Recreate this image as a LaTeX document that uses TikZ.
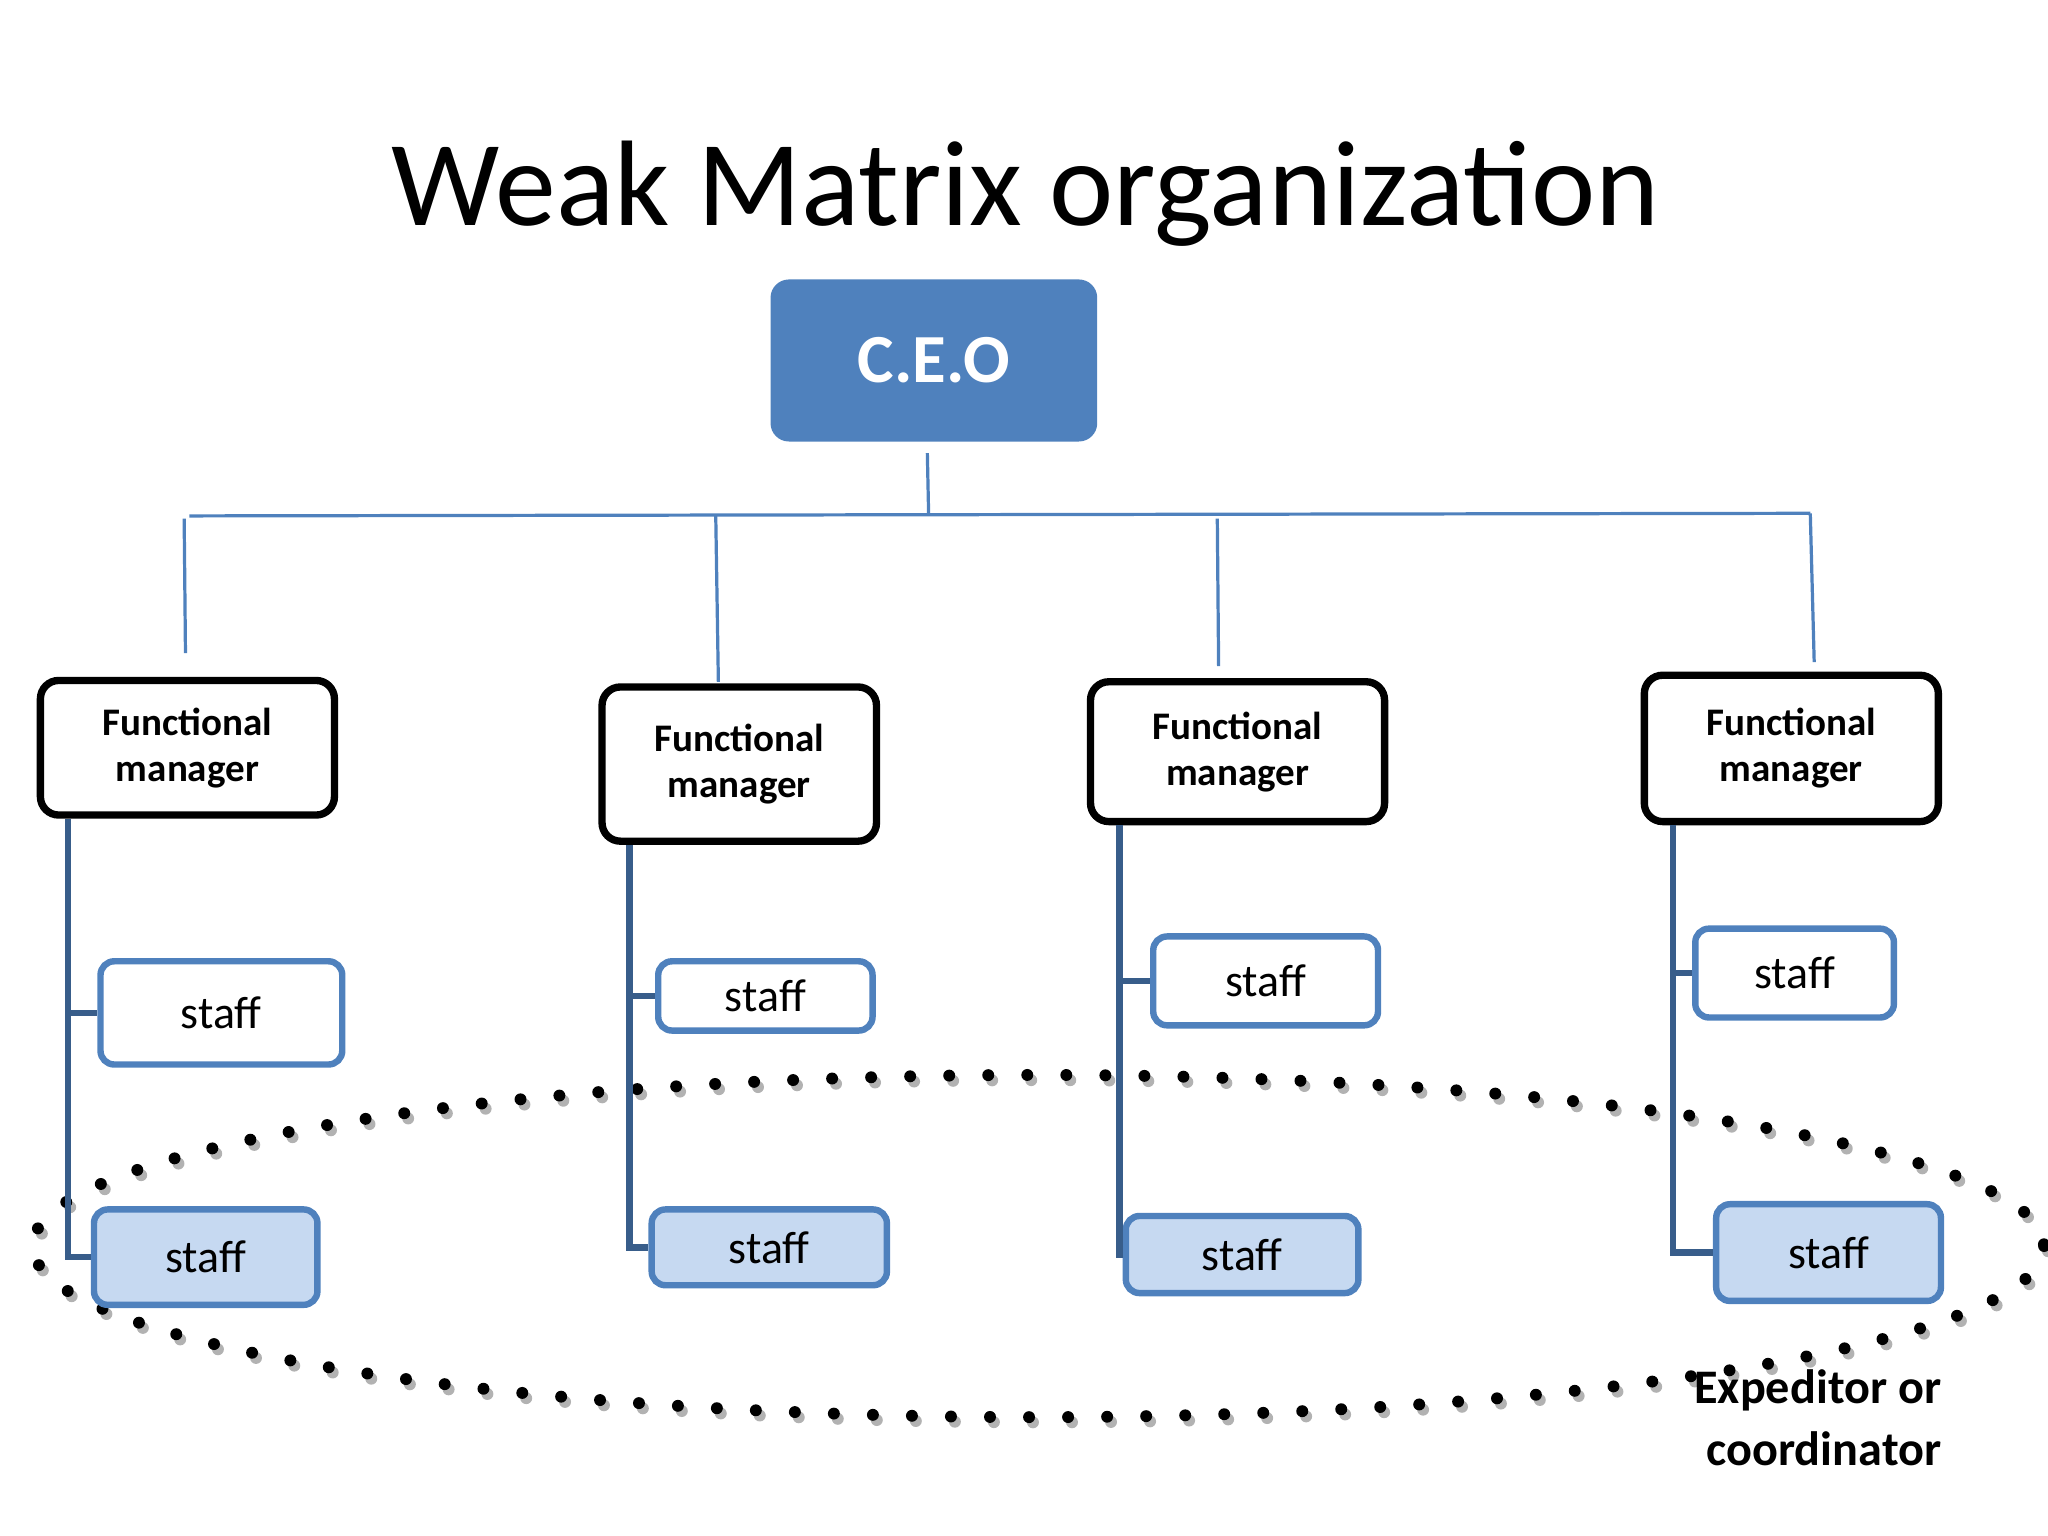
\documentclass[tikz,border=0pt]{standalone}
\usepackage{fontspec}
\setmainfont{Carlito}
\definecolor{ceob}{HTML}{4F81BD}
\definecolor{lnk}{HTML}{4F81BD}
\definecolor{dk}{HTML}{385D8A}
\definecolor{lt}{HTML}{C6D9F1}
\begin{document}
\begin{tikzpicture}[x=0.01cm,y=-0.01cm,
 fm/.style={draw=black,line width=1.6pt,rounded corners=4pt,fill=white,font=\fontsize{8.5}{10}\selectfont\bfseries,align=center,inner sep=0pt},
 st/.style={draw=ceob,line width=1.4pt,rounded corners=3pt,fill=white,font=\fontsize{10}{12}\selectfont,inner sep=0pt},
 sl/.style={st,fill=lt},
 tree/.style={draw=lnk,line width=0.7pt},
 con/.style={draw=dk,line width=1.4pt},
 dots/.style={line width=2.6pt,dash pattern=on 0pt off 8.5pt,line cap=round}]
\useasboundingbox (0,0) rectangle (1568,1176);
\node (title) at (785,148) {\fontsize{26.5}{30}\selectfont Weak Matrix organization};
\node[fill=ceob,rounded corners=4pt,minimum width=2.5cm,minimum height=1.24cm,text=white,font=\fontsize{15}{18}\selectfont\bfseries] (ceo) at (715,276) {C.E.O};
% tree
\coordinate (c1) at (710,347); \coordinate (c2) at (711,395);
\coordinate (hl) at (145,395); \coordinate (hr) at (1386,393);
\draw[tree] (c1) -- (c2); \draw[tree] (hl) -- (hr);
\coordinate (v1a) at (141,397); \coordinate (v1b) at (142,500);
\coordinate (v2a) at (548,395); \coordinate (v2b) at (550,522);
\coordinate (v3a) at (932,397); \coordinate (v3b) at (933,510);
\coordinate (v4a) at (1386,393); \coordinate (v4b) at (1389,507);
\foreach \a/\b in {v1a/v1b,v2a/v2b,v3a/v3b,v4a/v4b} \draw[tree] (\a) -- (\b);
% dotted ellipse with soft shadow
\draw[dots,black!30] (798,958) ellipse [x radius=770,y radius=131];
\draw[dots] (795,954) ellipse [x radius=770,y radius=131];
% FM boxes
\node[fm,minimum width=2.25cm,minimum height=1.03cm] (f1) at (143.5,572.5) {Functional\\manager};
\node[fm,minimum width=2.10cm,minimum height=1.18cm] (f2) at (566,585) {Functional\\manager};
\node[fm,minimum width=2.25cm,minimum height=1.07cm] (f3) at (947.5,575.5) {Functional\\manager};
\node[fm,minimum width=2.25cm,minimum height=1.12cm] (f4) at (1371.5,573) {Functional\\manager};
% staff
\node[st,minimum width=1.85cm,minimum height=0.79cm] (s1) at (169.5,775.5) {staff};
\node[st,minimum width=1.64cm,minimum height=0.53cm] (s2) at (586,762.5) {staff};
\node[st,minimum width=1.72cm,minimum height=0.68cm] (s3) at (969,751) {staff};
\node[st,minimum width=1.52cm,minimum height=0.68cm] (s4) at (1374,745) {staff};
\node[sl,minimum width=1.71cm,minimum height=0.73cm] (t1) at (157.5,962.5) {staff};
\node[sl,minimum width=1.80cm,minimum height=0.58cm] (t2) at (589,955) {staff};
\node[sl,minimum width=1.78cm,minimum height=0.59cm] (t3) at (951,960.5) {staff};
\node[sl,minimum width=1.72cm,minimum height=0.74cm] (t4) at (1400,959) {staff};
% connectors
\foreach \f/\s/\t/\x in {f1/s1/t1/52,f2/s2/t2/482,f3/s3/t3/857,f4/s4/t4/1281}{
 \draw[con] (\f.south -| \x,0) |- (\t.west);
 \draw[con] (\x,0 |- \s.west) -- (\s.west);
}
\node[align=right,anchor=north east,font=\fontsize{10.5}{13.5}\selectfont\bfseries,inner sep=0pt] (ex) at (1487,1048) {Expeditor or\\coordinator};
\end{tikzpicture}
\end{document}
